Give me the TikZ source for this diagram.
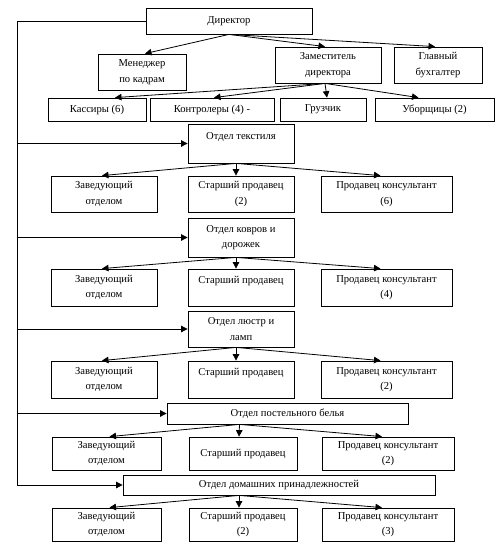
\documentclass[tikz,border=0pt]{standalone}
\usepackage{fontspec}
\setmainfont{Liberation Serif}
\usetikzlibrary{arrows.meta}
\newcommand\mybox[6]{\node[box, minimum width={(#4-#2)*1pt}, minimum height={(#5-#3)*1pt}] (#1) at ({(#2+#4)/2},{(#3+#5)/2}) {#6};}
\begin{document}
\begin{tikzpicture}[x=1pt,y=-1pt,
 box/.style={draw, line width=0.8pt, inner sep=0pt, align=center, font=\fontsize{10.6}{15.5}\selectfont},
 arr/.style={line width=0.8pt, -{Triangle[length=6.5pt,width=6.5pt]}},
 ln/.style={line width=0.8pt}]
\useasboundingbox[fill=white] (0,0) rectangle (502,552);
\mybox{dir}{146}{8}{312}{34}{Директор}
\mybox{man}{98}{54}{186}{90}{Менеджер\\по кадрам}
\mybox{dep}{275}{47}{381}{83}{Заместитель\\директора}
\mybox{acc}{394}{47}{482}{83}{Главный\\бухгалтер}
\mybox{kas}{48}{98}{146}{121}{Кассиры (6)}
\mybox{kon}{150}{98}{274}{121}{Контролеры (4) -}
\mybox{gru}{280}{98}{366}{121}{Грузчик}
\mybox{ubo}{375}{98}{494}{121}{Уборщицы (2)}
\mybox{d1}{188}{124}{294}{163}{Отдел текстиля\\~}
\mybox{a1}{51}{176}{157}{212}{Заведующий\\отделом}
\mybox{b1}{188}{176}{294}{212}{Старший продавец\\(2)}
\mybox{c1}{321}{176}{452}{212}{Продавец консультант\\(6)}
\mybox{d2}{188}{218}{294}{257}{Отдел ковров и\\дорожек}
\mybox{a2}{51}{269}{157}{306}{Заведующий\\отделом}
\mybox{b2}{188}{269}{294}{306}{Старший продавец\\~}
\mybox{c2}{321}{269}{452}{306}{Продавец консультант\\(4)}
\mybox{d3}{188}{311}{294}{347}{Отдел люстр и\\ламп}
\mybox{a3}{51}{361}{157}{398}{Заведующий\\отделом}
\mybox{b3}{188}{361}{294}{398}{Старший продавец\\~}
\mybox{c3}{321}{361}{452}{398}{Продавец консультант\\(2)}
\mybox{d4}{167}{403}{408}{424}{Отдел постельного белья}
\mybox{a4}{52}{437}{161}{470}{Заведующий\\отделом}
\mybox{b4}{189}{437}{297}{470}{Старший продавец}
\mybox{c4}{322}{437}{454}{470}{Продавец консультант\\(2)}
\mybox{d5}{123}{475}{435}{495}{Отдел домашних принадлежностей}
\mybox{a5}{52}{508}{161}{541}{Заведующий\\отделом}
\mybox{b5}{189}{508}{297}{541}{Старший продавец\\(2)}
\mybox{c5}{322}{508}{454}{541}{Продавец консультант\\(3)}
% spine
\coordinate (sp) at (17,0);
\draw[arr] (dir.west) -- (dir.west -| sp) -- (d5.west -| sp) -- (d5.west);
\foreach \d in {d1,d2,d3,d4} \draw[arr] (\d.west -| sp) -- (\d.west);
% director
\draw[arr] (dir.south) -- ([xshift=3]man.north);
\draw[arr] (dir.south) -- ([xshift=-3]dep.north);
\draw[arr] (dir.south) -- ([xshift=-3]acc.north);
% deputy
\draw[arr] ([xshift=-3]dep.south) -- ([xshift=18]kas.north);
\draw[arr] ([xshift=-3]dep.south) -- ([xshift=2]kon.north);
\draw[arr] ([xshift=-3]dep.south) -- ([xshift=4]gru.north);
\draw[arr] ([xshift=-3]dep.south) -- ([xshift=-16]ubo.north);
% departments
\foreach \d/\a/\b/\c in {d1/a1/b1/c1,d2/a2/b2/c2,d3/a3/b3/c3}{
  \draw[arr] ([xshift=-5]\d.south) -- ([xshift=-2]\a.north);
  \draw[arr] ([xshift=-5]\d.south) -- ([xshift=-5]\b.north);
  \draw[arr] ([xshift=-5]\d.south) -- ([xshift=-6]\c.north);
}
\draw[arr] ([xshift=-48]d4.south) -- ([xshift=3]a4.north);
\draw[arr] ([xshift=-48]d4.south) -- ([xshift=-4]b4.north);
\draw[arr] ([xshift=-48]d4.south) -- ([xshift=-6]c4.north);
\draw[arr] ([xshift=-40]d5.south) -- ([xshift=3]a5.north);
\draw[arr] ([xshift=-40]d5.south) -- ([xshift=-4]b5.north);
\draw[arr] ([xshift=-40]d5.south) -- ([xshift=-6]c5.north);
\end{tikzpicture}
\end{document}
